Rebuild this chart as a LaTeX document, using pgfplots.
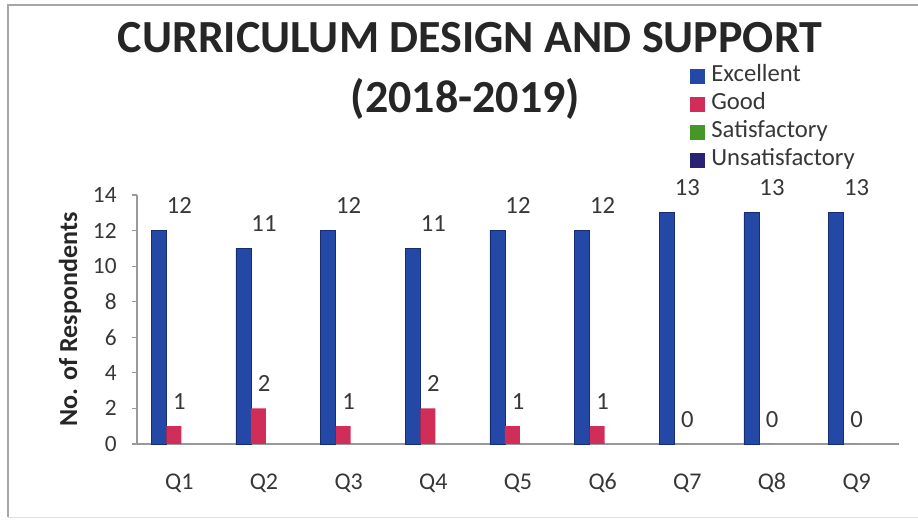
\documentclass[border=0pt]{standalone}
\usepackage{pgfplots}
\pgfplotsset{compat=1.18}
\usepackage{fontspec}
\setmainfont{Carlito}
\definecolor{exc}{RGB}{36,72,165}
\definecolor{excd}{RGB}{22,45,115}
\definecolor{good}{RGB}{208,45,88}
\definecolor{goodd}{RGB}{160,25,60}
\definecolor{sat}{RGB}{70,150,40}
\definecolor{uns}{RGB}{40,35,115}
\definecolor{txt}{RGB}{55,55,55}
\begin{document}
\begin{tikzpicture}
\path[use as bounding box] (0,0) rectangle (688.5pt,393pt);
\draw[gray!70, line width=0.9pt] (6pt,5.25pt) -- (6pt,389.25pt) -- (690pt,389.25pt);
\draw[gray!25, line width=0.6pt] (6pt,5.25pt) -- (690pt,5.25pt);
\node[font=\fontsize{34.5}{40}\selectfont\bfseries, text=black!85, anchor=base, inner sep=0pt] at (352.5pt,353.25pt) {CURRICULUM DESIGN AND SUPPORT};
\node[font=\fontsize{34.5}{40}\selectfont\bfseries, text=black!85, anchor=base, inner sep=0pt] at (349pt,308.25pt) {(2018-2019)};
\begin{axis}[
  at={(102.75pt,60pt)}, anchor=south west,
  scale only axis, width=571.5pt, height=186.75pt,
  xmin=-0.5, xmax=8.5, ymin=0, ymax=14,
  axis x line=bottom, axis y line=left,
  axis line style={-, gray!80, line width=0.8pt},
  xtick={0,...,8}, xticklabels={Q1,Q2,Q3,Q4,Q5,Q6,Q7,Q8,Q9},
  x tick style={draw=none},
  ytick={0,2,...,14},
  y tick style={gray!80, line width=0.8pt},
  tick align=outside, major tick length=3.75pt,
  /pgf/number format/assume math mode=true,
  xticklabel style={font=\fontsize{18}{21}\selectfont, text=txt, anchor=base, yshift=-30.75pt},
  yticklabel style={font=\fontsize{17.5}{20}\selectfont, text=txt, anchor=east, xshift=-8pt},
  ylabel={No. of Respondents},
  ylabel style={at={(axis description cs:-0.0878,0.5)}, anchor=center, font=\fontsize{19.5}{22}\selectfont\bfseries, text=black!85},
  legend style={at={(axis description cs:0.726,1.536)}, anchor=north west, draw=none, fill=none,
    font=\fontsize{18.5}{21}\selectfont, text=txt, inner sep=0pt,
    nodes={text height=13pt, text depth=4pt, inner sep=2pt, anchor=west}},
  legend cell align=left,
  nodes near coords style={font=\fontsize{18.5}{21}\selectfont, text=txt},
  clip=false,
]
\addlegendimage{legend image code/.code={\path[draw=none,fill=none] (0pt,0pt) rectangle (13.5pt,0.1pt); \fill[exc] (0pt,-5.25pt) rectangle (10.5pt,5.25pt);}}
\addlegendentry{Excellent}
\addlegendimage{legend image code/.code={\path[draw=none,fill=none] (0pt,0pt) rectangle (13.5pt,0.1pt); \fill[good] (0pt,-5.25pt) rectangle (10.5pt,5.25pt);}}
\addlegendentry{Good}
\addlegendimage{legend image code/.code={\path[draw=none,fill=none] (0pt,0pt) rectangle (13.5pt,0.1pt); \fill[sat] (0pt,-5.25pt) rectangle (10.5pt,5.25pt);}}
\addlegendentry{Satisfactory}
\addlegendimage{legend image code/.code={\path[draw=none,fill=none] (0pt,0pt) rectangle (13.5pt,0.1pt); \fill[uns] (0pt,-5.25pt) rectangle (10.5pt,5.25pt);}}
\addlegendentry{Unsatisfactory}
\addplot[ybar, bar width=11.25pt, bar shift=-15.4pt, fill=exc, draw=excd, line width=0.6pt, forget plot,
  nodes near coords, every node near coord/.append style={anchor=south, yshift=9pt}]
  coordinates {(0,12) (1,11) (2,12) (3,11) (4,12) (5,12) (6,13) (7,13) (8,13)};
\addplot[ybar, bar width=11.25pt, bar shift=-4.15pt, fill=good, draw=none, forget plot,
  nodes near coords, every node near coord/.append style={anchor=south, yshift=9pt}]
  coordinates {(0,1) (1,2) (2,1) (3,2) (4,1) (5,1) (6,0) (7,0) (8,0)};
\end{axis}
\end{tikzpicture}
\end{document}
